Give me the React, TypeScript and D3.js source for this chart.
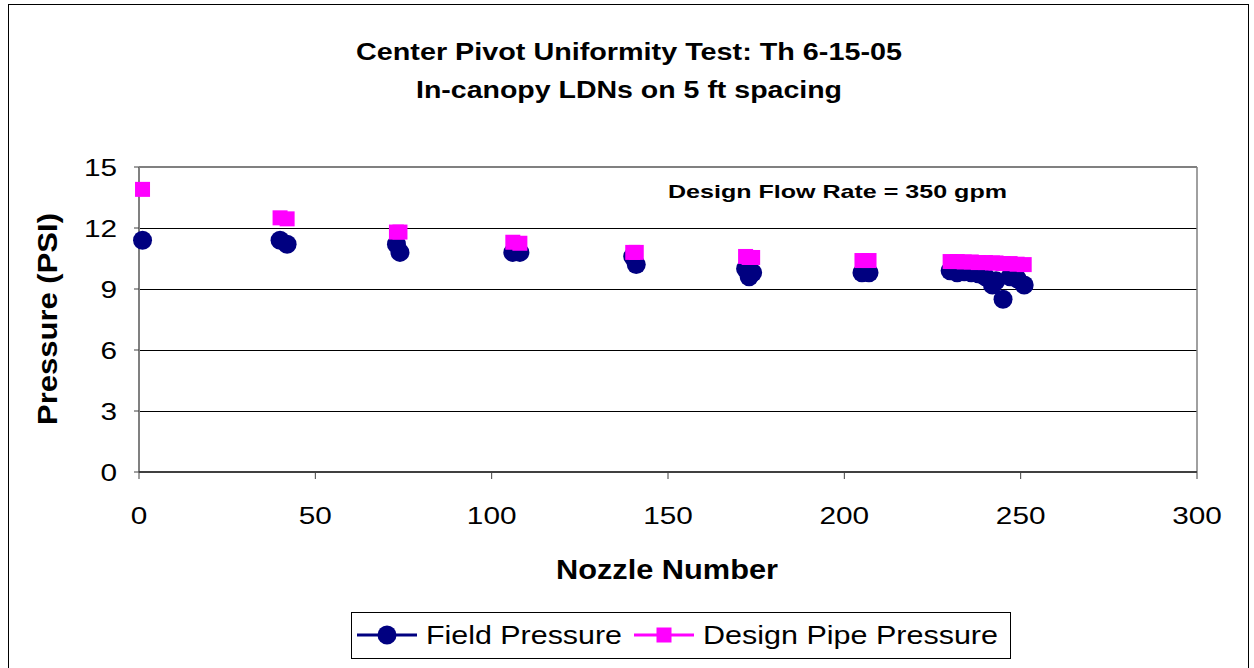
import React from "react";
import * as d3 from "d3";

const nozzles = [1, 40, 42, 73, 74, 106, 108, 140, 141, 172, 173, 174, 205, 207, 230, 232, 234, 236, 238, 240, 242, 243, 245, 247, 249, 251];
const fieldPressure = [11.4, 11.4, 11.2, 11.2, 10.8, 10.8, 10.8, 10.6, 10.2, 10.0, 9.6, 9.8, 9.8, 9.8, 9.9, 9.8, 9.85, 9.8, 9.75, 9.6, 9.2, 9.4, 8.5, 9.6, 9.5, 9.2];
const designPressure = [13.9, 12.5, 12.45, 11.8, 11.8, 11.3, 11.25, 10.8, 10.8, 10.6, 10.55, 10.55, 10.4, 10.4, 10.35, 10.35, 10.33, 10.33, 10.3, 10.3, 10.28, 10.28, 10.25, 10.25, 10.22, 10.2];
const xTicks = [0, 50, 100, 150, 200, 250, 300];
const yTicks = [0, 3, 6, 9, 12, 15];
const titleLines = ["Center Pivot Uniformity Test: Th 6-15-05", "In-canopy LDNs on 5 ft spacing"];
const titleWidths = [546, 426];

const W = 1254, H = 668;
const L = 139, R = 1197, T = 167, B = 472;
const font = "Liberation Sans, Arial, sans-serif";

export default function App() {
  const x = d3.scaleLinear().domain([0, 300]).range([L, R]);
  const y = d3.scaleLinear().domain([0, 15]).range([B, T]);
  const navy = "#000080";
  const mag = "#FF00FF";
  const sx = 1.24;
  return (
    <svg width={W} height={H} style={{ position: "absolute", left: 0, top: 0, background: "#fff" }} fontFamily={font}>
      <rect x={8.5} y={4.5} width={1240} height={700} fill="#fff" stroke="#000" strokeWidth={1} />
      {titleLines.map((t, i) => (
        <text key={i} x={629 - titleWidths[i] / 2} y={60 + i * 38} fontSize={23} fontWeight="bold"
          textLength={titleWidths[i]} lengthAdjust="spacingAndGlyphs">{t}</text>
      ))}
      {yTicks.filter(v => v > 0 && v < 15).map(v => (
        <line key={v} x1={L} x2={R} y1={Math.round(y(v)) + 0.5} y2={Math.round(y(v)) + 0.5} stroke="#000" strokeWidth={1} />
      ))}
      <line x1={L} x2={R} y1={T} y2={T} stroke="#808080" strokeWidth={2} />
      <line x1={L} x2={L} y1={T} y2={B} stroke="#808080" strokeWidth={2} />
      <line x1={R} x2={R} y1={T} y2={B} stroke="#808080" strokeWidth={1.5} />
      <line x1={L} x2={R} y1={B} y2={B} stroke="#404040" strokeWidth={2} />
      {xTicks.map(v => (
        <g key={v}>
          <line x1={x(v)} x2={x(v)} y1={B} y2={B + 7} stroke="#404040" strokeWidth={1} />
          <text transform={`translate(${x(v)},524) scale(${sx},1)`} textAnchor="middle" fontSize={24}>{v}</text>
        </g>
      ))}
      {yTicks.map(v => (
        <g key={v}>
          <line x1={L - 5} x2={L} y1={y(v)} y2={y(v)} stroke="#404040" strokeWidth={1} />
          <text transform={`translate(117,${y(v) + 9}) scale(${sx},1)`} textAnchor="end" fontSize={24}>{v}</text>
        </g>
      ))}
      <text x={556} y={579} fontSize={28} fontWeight="bold" textLength={222} lengthAdjust="spacingAndGlyphs">Nozzle Number</text>
      <text transform={`translate(57,425) rotate(-90)`} fontSize={28} fontWeight="bold" textLength={212} lengthAdjust="spacingAndGlyphs">Pressure (PSI)</text>
      <text x={668} y={198} fontSize={19} fontWeight="bold" textLength={339} lengthAdjust="spacingAndGlyphs">Design Flow Rate = 350 gpm</text>
      {nozzles.map((n, i) => (
        <circle key={"f" + i} cx={x(n)} cy={y(fieldPressure[i])} r={9.5} fill={navy} />
      ))}
      {nozzles.map((n, i) => (
        <rect key={"d" + i} x={x(n) - 7.5} y={y(designPressure[i]) - 7.5} width={15} height={15} fill={mag} />
      ))}
      <rect x={351.5} y={612.5} width={659} height={46} fill="#fff" stroke="#000" strokeWidth={1} />
      <line x1={357} x2={417} y1={635} y2={635} stroke={navy} strokeWidth={3} />
      <circle cx={387} cy={635} r={9.5} fill={navy} />
      <text x={426} y={644} fontSize={25} textLength={196} lengthAdjust="spacingAndGlyphs">Field Pressure</text>
      <line x1={634} x2={694} y1={635} y2={635} stroke={mag} strokeWidth={3} />
      <rect x={656.5} y={627.5} width={15} height={15} fill={mag} />
      <text x={703} y={644} fontSize={25} textLength={295} lengthAdjust="spacingAndGlyphs">Design Pipe Pressure</text>
    </svg>
  );
}
